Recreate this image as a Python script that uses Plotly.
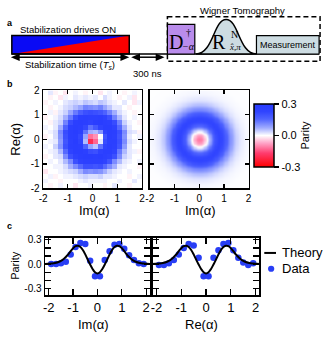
import numpy as np
import plotly.graph_objects as go

W, H = 326, 338

# cell centres of the measured Wigner map (Im on x, Re on y)
cells = [-1.9, -1.7, -1.5, -1.3, -1.1, -0.9, -0.7, -0.5, -0.3, -0.1,
         0.1, 0.3, 0.5, 0.7, 0.9, 1.1, 1.3, 1.5, 1.7, 1.9]
re_rows = cells[::-1]

# measured parity (x100), rows from Re=+1.9 down to Re=-1.9
exp_parity = [
    [0, 2, -1, 0, -2, 0, 1, 0, -1, 0, 0, -2, 0, 1, 0, 0, -1, 0, 1, 0],
    [0, -1, 0, -2, 1, 0, 2, 1, 2, 1, 2, 0, 3, 1, 0, -1, 0, 1, -2, 0],
    [-1, 0, 1, 0, 2, 3, 4, 3, 5, 4, 3, 5, 4, 2, 1, 0, 2, 0, -2, 1],
    [0, -1, 0, 1, 3, 4, 6, 8, 12, 11, 10, 12, 8, 5, 2, 2, 0, -1, 0, 0],
    [0, 1, -1, 2, 4, 8, 13, 17, 20, 21, 20, 19, 16, 12, 7, 3, 1, 0, -1, 0],
    [-1, 0, 1, 3, 7, 13, 21, 26, 27, 26, 26, 27, 25, 20, 12, 6, 2, 0, 1, 0],
    [0, -1, 2, 4, 12, 21, 27, 28, 27, 25, 28, 29, 27, 26, 21, 12, 4, 1, 0, -1],
    [1, 0, 2, 7, 16, 26, 28, 27, 22, 14, 18, 24, 28, 28, 25, 15, 7, 2, 0, 0],
    [0, 1, 3, 11, 21, 27, 29, 26, 14, 7, 6, 10, 24, 28, 27, 20, 11, 3, 2, -1],
    [-1, 0, 3, 10, 20, 27, 28, 22, 8, -12, -9, 0, 19, 28, 26, 19, 10, 2, 0, 1],
    [0, 1, 2, 9, 19, 26, 29, 23, 6, -20, -13, 2, 21, 27, 27, 20, 11, 3, 1, 0],
    [1, 0, 4, 10, 20, 27, 28, 27, 16, 8, 5, 14, 25, 28, 26, 19, 9, 2, 0, 0],
    [0, 1, 2, 6, 15, 25, 28, 28, 26, 21, 20, 25, 27, 27, 24, 13, 6, 2, 1, -1],
    [-1, 0, 2, 3, 11, 20, 25, 27, 28, 28, 27, 28, 26, 25, 20, 11, 4, 2, 0, 0],
    [0, 1, 0, 2, 6, 11, 20, 25, 26, 26, 26, 26, 24, 19, 11, 6, 2, 1, 0, 1],
    [0, 0, 1, 1, 3, 7, 11, 15, 20, 20, 19, 20, 15, 11, 7, 2, 1, 0, 0, -1],
    [-2, 0, 0, 1, 2, 3, 4, 7, 11, 10, 11, 10, 7, 4, 2, 1, 0, 1, 0, 0],
    [0, 1, -1, 0, 1, 1, 2, 3, 4, 3, 3, 4, 2, 2, 1, 0, 0, -1, 0, 1],
    [1, 0, 0, -1, 0, 0, 0, 1, 2, 1, 1, 1, 1, 0, 0, 1, 0, 0, 2, 0],
    [0, -1, 0, 1, 0, 0, -2, 0, 0, 1, 0, 0, -1, 0, 2, 0, 0, -1, 0, 0],
]

theory_r = [0.0, 0.1, 0.2, 0.3, 0.4, 0.5, 0.6, 0.7, 0.8, 0.9, 1.0, 1.1,
            1.2, 1.3, 1.4, 1.5, 1.6, 1.7, 1.8, 1.9, 2.0, 2.2, 3.0]
theory_p = [-0.115, -0.10, -0.06, -0.005, 0.055, 0.12, 0.175, 0.212, 0.228,
            0.222, 0.197, 0.16, 0.12, 0.088, 0.06, 0.04, 0.026, 0.017,
            0.011, 0.007, 0.005, 0.002, 0.0]

# panel c cuts through the measured map
cut_im = [0.00, 0.00, 0.01, 0.03, 0.12, 0.21, 0.26, 0.25, 0.04, -0.15,
          -0.15, 0.05, 0.16, 0.24, 0.25, 0.19, 0.11, 0.05, 0.01, 0.00]
cut_re = [-0.01, -0.01, 0.01, 0.05, 0.12, 0.20, 0.25, 0.23, 0.08, -0.15,
          -0.15, 0.08, 0.17, 0.25, 0.26, 0.17, 0.08, 0.02, -0.01, 0.01]

int_ticks = [-2, -1, 0, 1, 2]
int_text = ['-2', '-1', '0', '1', '2']

BLUE = 'rgb(40,62,245)'
FONT = 'Liberation Sans, Arial, sans-serif'
SERIF = 'Liberation Serif, Times New Roman, serif'


def dx(a, b):
    return [a / W, b / W]


def dy(top, bottom):
    return [1 - bottom / H, 1 - top / H]


# theory map built from the radial profile
g = np.linspace(-2, 2, 81)
GX, GY = np.meshgrid(g, g)
theory_map = np.interp(np.hypot(GX, GY), theory_r, theory_p)

line_x = [-r for r in theory_r[::-1]] + theory_r[1:]
line_y = theory_p[::-1] + theory_p[1:]

traces = []
traces.append(go.Heatmap(x=cells, y=re_rows, z=np.array(exp_parity) / 100.0,
                         coloraxis='coloraxis', xaxis='x', yaxis='y', hoverinfo='skip'))
traces.append(go.Heatmap(x=g, y=g, z=theory_map, zsmooth='best',
                         coloraxis='coloraxis', xaxis='x2', yaxis='y2', hoverinfo='skip'))
for cut, xa, ya in [(cut_im, 'x4', 'y4'), (cut_re, 'x5', 'y5')]:
    traces.append(go.Scatter(x=cells, y=cut, mode='markers', xaxis=xa, yaxis=ya,
                             marker=dict(color=BLUE, size=6.5), showlegend=False))
    traces.append(go.Scatter(x=line_x, y=line_y, mode='lines', xaxis=xa, yaxis=ya,
                             line=dict(color='black', width=2, shape='spline'),
                             showlegend=False))
# pixel overlay for the schematic and labels
traces.append(go.Scatter(x=[0], y=[0], xaxis='x6', yaxis='y6', mode='markers',
                         marker=dict(opacity=0), showlegend=False, hoverinfo='skip'))

fig = go.Figure(data=traces)

base = dict(showline=True, linecolor='black', linewidth=1.5, mirror='ticks',
            ticks='inside', tickcolor='black', tickwidth=1.2, showgrid=False,
            zeroline=False, fixedrange=True)
heat_ticks = dict(range=[-2, 2], tickvals=int_ticks, ticktext=int_text, ticklen=4,
                  tickfont=dict(size=10))
cx = dict(range=[-2.15, 2.15], tickvals=int_ticks, ticktext=int_text, ticklen=6,
          tickfont=dict(size=13))
cy = dict(range=[-0.384, 0.324], tickvals=[-0.3, -0.2, -0.1, 0, 0.1, 0.2, 0.3],
          ticktext=['-0.3', '', '', '0.0', '', '', '0.3'], ticklen=6,
          tickfont=dict(size=10))

fig.update_layout(
    width=W, height=H, autosize=False,
    margin=dict(l=0, r=0, t=0, b=0),
    paper_bgcolor='white', plot_bgcolor='rgba(0,0,0,0)',
    font=dict(family=FONT, color='black'),
    xaxis=dict(base, domain=dx(40, 141), anchor='y', **heat_ticks),
    yaxis=dict(base, domain=dy(88, 189), anchor='x', **heat_ticks),
    xaxis2=dict(base, domain=dx(149, 250), anchor='y2', **heat_ticks),
    yaxis2=dict(base, domain=dy(88, 189), anchor='x2', showticklabels=False, **heat_ticks),
    xaxis4=dict(base, domain=dx(42, 149), anchor='y4', **cx),
    yaxis4=dict(base, domain=dy(240, 299), anchor='x4', **cy),
    xaxis5=dict(base, domain=dx(152, 261), anchor='y5', **cx),
    yaxis5=dict(base, domain=dy(240, 299), anchor='x5', showticklabels=False, **cy),
    xaxis6=dict(domain=[0, 1], range=[0, W], visible=False, anchor='y6', fixedrange=True),
    yaxis6=dict(domain=[0, 1], range=[H, 0], visible=False, anchor='x6', fixedrange=True),
    coloraxis=dict(
        cmin=-0.3, cmax=0.3,
        colorscale=[[0, 'rgb(255,0,0)'], [0.22, 'rgb(255,60,110)'], [0.38, 'rgb(255,165,200)'],
                    [0.5, 'rgb(255,255,255)'], [0.62, 'rgb(160,172,255)'],
                    [0.76, 'rgb(80,100,255)'], [0.88, 'rgb(48,68,255)'], [1, 'rgb(40,60,255)']],
        colorbar=dict(x=255 / W, xanchor='left', y=1 - 134.5 / H, yanchor='middle',
                      len=65 / H, lenmode='fraction', thickness=20, thicknessmode='pixels',
                      xpad=0, ypad=0, outlinewidth=1.5, outlinecolor='black',
                      ticks='outside', ticklen=5, tickwidth=1.2, tickcolor='black',
                      tickvals=[-0.3, 0, 0.3], ticktext=['-0.3', '0.0', '0.3'],
                      tickfont=dict(size=11),
                      title=dict(text='Parity', side='right', font=dict(size=11))),
    ),
)

shapes = []


def px_shape(**kw):
    d = dict(xref='x6', yref='y6')
    d.update(kw)
    shapes.append(d)


# panel a schematic
px_shape(type='rect', x0=8, x1=128, y0=31.5, y1=50.5, fillcolor='rgb(10,10,245)', line_width=0)
px_shape(type='path', path='M 8 50.5 L 128 50.5 L 128 31.5 Z', fillcolor='rgb(250,0,0)', line_width=0)
px_shape(type='rect', x0=8, x1=128, y0=31.5, y1=50.5, line=dict(color='black', width=1.5))
px_shape(type='line', x0=8, x1=322, y0=50.5, y1=50.5, line=dict(color='black', width=1.5))
px_shape(type='rect', x0=167, x1=323, y0=12, y1=58, line=dict(color='black', width=1.5, dash='5px,3px'))
px_shape(type='rect', x0=167, x1=195, y0=20, y1=50.5, fillcolor='rgb(185,140,235)',
         line=dict(color='black', width=1.2))
px_shape(type='path', path='M 196 50.5 C 214 50.5 214 15 227 15 C 240 15 240 50.5 258 50.5 Z',
         fillcolor='rgb(205,220,226)', line=dict(color='black', width=1.5))
px_shape(type='rect', x0=258, x1=322, y0=31.5, y1=50.5, fillcolor='rgb(205,220,226)',
         line=dict(color='black', width=1.2))
# double arrows under the sequence
for a, b in [(7, 128), (130, 164)]:
    px_shape(type='line', x0=a + 4, x1=b - 4, y0=53.8, y1=53.8, line=dict(color='black', width=1.5))
    px_shape(type='path', path=f'M {a} 53.8 L {a + 9} 50 L {a + 9} 57.6 Z', fillcolor='black', line_width=0)
    px_shape(type='path', path=f'M {b} 53.8 L {b - 9} 50 L {b - 9} 57.6 Z', fillcolor='black', line_width=0)
# legend of panel c
px_shape(type='line', x0=266, x1=278, y0=255.5, y1=255.5, line=dict(color='black', width=2))
px_shape(type='circle', x0=269.8, x1=276.2, y0=268.6, y1=275, fillcolor=BLUE, line_width=0)

ann = []


def txt(x, y, s, size=9.5, **kw):
    d = dict(xref='x6', yref='y6', x=x, y=y, text=s, showarrow=False,
             font=dict(size=size, family=kw.pop('family', FONT), color='black'))
    d.update(kw)
    ann.append(d)


txt(6, 19, '<b>a</b>', 9)
txt(6, 81, '<b>b</b>', 9)
txt(6, 228, '<b>c</b>', 9)
txt(65, 25, 'Stabilization drives ON', 9.5)
txt(67, 62, 'Stabilization time (<i>T<sub>s</sub></i>)', 9.5)
txt(147, 71, '300 ns', 9.5)
txt(244, 5.5, 'Wigner Tomography', 9.5)
txt(290, 41, 'Measurement', 9)
txt(176, 38, 'D', 20, family=SERIF)
txt(188.5, 28, '†', 10, family=SERIF)
txt(189, 42.5, '<i>−α</i>', 10, family=SERIF)
txt(220, 38.5, 'R', 20, family=SERIF)
txt(235.5, 30, 'N', 10, family=SERIF)
txt(236, 43.5, '<i>x̂,π</i>', 9, family=SERIF)
txt(12, 138, 'Re(α)', 13, textangle=-90)
txt(92, 212, 'Im(α)', 13)
txt(201, 212, 'Im(α)', 13)
txt(11, 268, 'Parity', 11, textangle=-90)
txt(91, 329, 'Im(α)', 13)
txt(202, 329, 'Re(α)', 13)
txt(282, 255.5, 'Theory', 13, xanchor='left')
txt(282, 272, 'Data', 13, xanchor='left')

fig.update_layout(shapes=shapes, annotations=ann)
fig.write_html("out.html", config={'displayModeBar': False, 'staticPlot': True},
               post_script="document.body.style.margin='0';document.body.style.padding='0';")
